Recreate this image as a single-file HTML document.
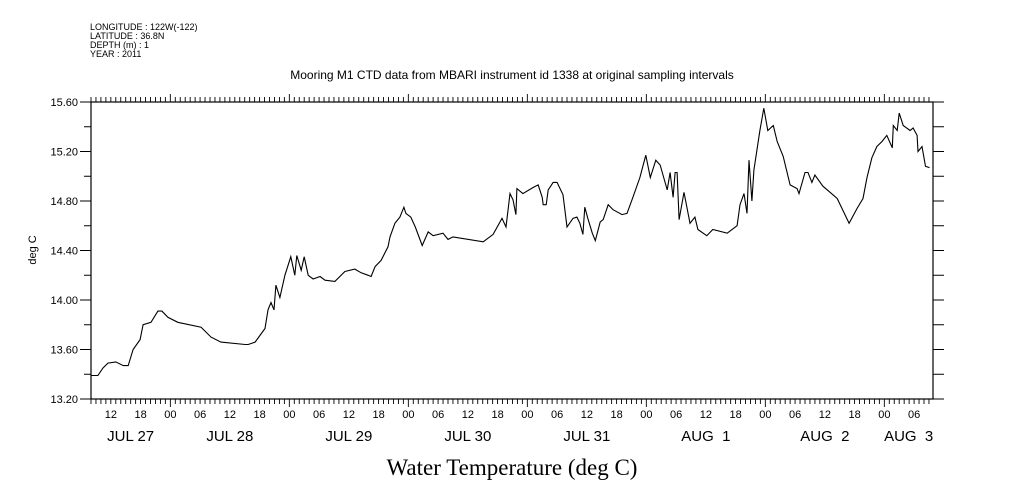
<!DOCTYPE html>
<html><head><meta charset="utf-8"><style>
html,body{margin:0;padding:0;background:#fff;}
svg{display:block;}
text{font-family:"Liberation Sans",sans-serif;fill:#000;}
</style></head><body>
<svg id="chart" width="1009" height="504" viewBox="0 0 1009 504" xmlns="http://www.w3.org/2000/svg">
<g font-size="9">
<text x="90" y="30">LONGITUDE : 122W(-122)</text>
<text x="90" y="39">LATITUDE : 36.8N</text>
<text x="90" y="48">DEPTH (m) : 1</text>
<text x="90" y="57">YEAR : 2011</text>
</g>
<text x="512" y="79" font-size="12" text-anchor="middle">Mooring M1 CTD data from MBARI instrument id 1338 at original sampling intervals</text>
<text transform="translate(36,250) rotate(-90)" font-size="11" text-anchor="middle">deg C</text>
<text x="512" y="475" font-size="23" text-anchor="middle" style="font-family:'Liberation Serif',serif">Water Temperature (deg C)</text>
<g id="axes"></g>
<g id="series"></g>
</svg>
<script>
// hours since Jul 27 08:00
const hours = [0.0,1.4,2.4,3.4,5.0,6.5,7.5,8.5,9.9,10.5,12.1,13.5,14.3,15.5,17.5,22.2,24.2,26.2,31.1,31.7,33.1,35.1,35.7,36.3,36.9,37.3,38.1,39.1,40.3,41.1,41.5,42.4,43.0,43.8,44.8,46.2,47.2,49.2,51.2,53.2,54.5,55.9,56.5,57.3,58.5,59.9,60.3,61.3,62.3,63.1,63.5,64.5,65.4,66.8,68.0,69.0,71.0,72.0,73.0,79.1,81.1,82.9,83.7,84.5,85.1,85.7,85.9,87.1,89.2,90.2,91.0,91.2,91.8,92.2,93.2,94.0,95.2,96.0,97.2,98.0,98.6,99.2,99.6,100.2,101.1,101.7,102.7,103.3,104.3,105.3,107.1,108.1,109.3,110.7,111.9,112.8,113.9,114.8,116.2,116.8,117.4,117.8,118.2,118.6,119.6,120.8,121.8,122.4,124.2,125.4,128.3,130.3,130.9,131.7,132.3,132.7,133.3,133.7,134.9,135.7,136.5,137.6,138.4,139.6,141.0,142.4,142.8,144.0,144.6,145.4,146.0,147.6,150.5,152.9,154.5,155.7,156.5,157.5,158.5,159.5,160.5,161.6,161.8,162.6,163.0,163.8,165.2,165.8,166.6,166.8,167.6,168.3,169.1];
const temps = [13.39,13.39,13.45,13.49,13.50,13.47,13.47,13.60,13.68,13.80,13.82,13.91,13.91,13.86,13.82,13.78,13.70,13.66,13.64,13.64,13.66,13.77,13.92,13.98,13.92,14.12,14.02,14.20,14.35,14.20,14.36,14.24,14.35,14.20,14.17,14.19,14.16,14.15,14.23,14.25,14.22,14.20,14.19,14.27,14.32,14.43,14.51,14.62,14.67,14.75,14.70,14.67,14.59,14.44,14.55,14.52,14.54,14.49,14.51,14.47,14.53,14.66,14.59,14.86,14.81,14.69,14.90,14.86,14.91,14.93,14.83,14.77,14.77,14.89,14.95,14.95,14.85,14.59,14.66,14.67,14.62,14.53,14.75,14.66,14.54,14.48,14.63,14.65,14.77,14.73,14.69,14.70,14.83,14.99,15.17,14.99,15.13,15.09,14.89,15.03,14.83,15.03,15.03,14.65,14.87,14.62,14.67,14.57,14.52,14.57,14.54,14.60,14.77,14.86,14.70,15.13,14.80,15.05,15.37,15.55,15.37,15.41,15.28,15.16,14.93,14.90,14.86,15.03,15.03,14.95,15.01,14.92,14.82,14.62,14.74,14.82,14.99,15.15,15.24,15.28,15.33,15.23,15.41,15.37,15.51,15.41,15.37,15.39,15.33,15.20,15.24,15.08,15.07];
const yTickValues = [13.2,13.6,14.0,14.4,14.8,15.2,15.6];
const yTickLabels = ["13.20","13.60","14.00","14.40","14.80","15.20","15.60"];
const hourLabels = ["12","18","00","06"]; // cycles starting at hour offset 4 (12:00)
const dayLabels = ["JUL 27","JUL 28","JUL 29","JUL 30","JUL 31","AUG  1","AUG  2","AUG  3"];

const X0=91, X1=933, Y0=399, Y1=102;
const HMAX=(X1-X0)/(119/24);
const TMIN=13.2, TMAX=15.6;
const xs=h=>X0+h*(X1-X0)/HMAX;
const ys=t=>Y0-(t-TMIN)*(Y0-Y1)/(TMAX-TMIN);
const NS="http://www.w3.org/2000/svg";
const axes=document.getElementById('axes');
function mk(tag,attrs,parent){const e=document.createElementNS(NS,tag);for(const k in attrs)e.setAttribute(k,attrs[k]);parent.appendChild(e);return e;}

const frame=mk('rect',{x:X0,y:Y1,width:X1-X0,height:Y0-Y1,fill:'none',stroke:'#000','stroke-width':1.2},axes);



// y ticks every 0.2
for(let i=0;i<=12;i++){
  const t=TMIN+i*0.2, y=ys(t);
  const major=i%2===0;
  const l=mk('line',{x1:X0-(major?11:7),x2:X0,y1:y,y2:y,stroke:'#000'},axes);
  
  
  const r=mk('line',{x1:X1,x2:X1+(major?11:11),y1:y,y2:y,stroke:'#000'},axes);
  
  
}
yTickValues.forEach((v,i)=>{
  const t=mk('text',{x:X0-13,y:ys(v)+4,'font-size':11,'text-anchor':'end'},axes);
  t.textContent=yTickLabels[i];
  
  
});
// x hourly ticks
for(let h=0;h<=HMAX;h++){
  const x=xs(h);
  const big=((h+8)%24)===0;
  const b=mk('line',{x1:x,x2:x,y1:Y0,y2:Y0+(big?8:5),stroke:'#000','stroke-width':0.9},axes);
  
  
  const tp=mk('line',{x1:x,x2:x,y1:Y1,y2:Y1-(big?8:5),stroke:'#000','stroke-width':0.9},axes);
  
  
}
let k=0;
for(let h=4;h<=HMAX;h+=6){
  const t=mk('text',{x:xs(h),y:418,'font-size':11,'text-anchor':'middle'},axes);
  t.textContent=hourLabels[k%4];k++;
  
  
}
dayLabels.forEach((d,i)=>{
  const s=Math.max(0,i*24-8), e=Math.min(HMAX,(i+1)*24-8);
  const t=mk('text',{x:(xs(s)+xs(e))/2,y:441,'font-size':15,'text-anchor':'middle','xml:space':'preserve'},axes);
  t.style.whiteSpace='pre';
  t.textContent=d;
  
  
});
// series
const pts=hours.map((h,i)=>xs(h).toFixed(1)+','+ys(temps[i]).toFixed(1)).join(' ');
const line=mk('polyline',{points:pts,fill:'none',stroke:'#000','stroke-width':1.1},document.getElementById('series'));


</script>
</body></html>
